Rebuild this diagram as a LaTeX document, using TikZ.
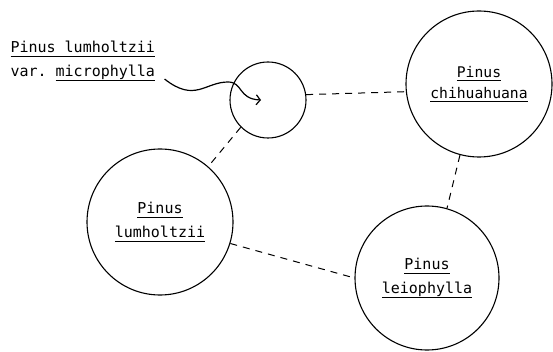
\documentclass[tikz,border=0pt]{standalone}
\usepackage{fontspec}
\setmonofont{DejaVu Sans Mono}
\usetikzlibrary{arrows.meta}
\newcommand{\spname}[1]{\setbox0\hbox{#1}\rlap{\rule[-3.5pt]{\wd0}{0.8pt}}\box0}

\begin{document}
\begin{tikzpicture}[x=1pt,y=-1pt,
    species/.style={draw,circle,line width=1.1pt,align=center,font=\ttfamily\fontsize{15}{24}\selectfont},
    link/.style={draw,line width=1pt,dash pattern=on 7pt off 6pt}]
            \useasboundingbox (0,0) rectangle (553,352);

            \node[species,minimum size=76pt] (Microphylla) at (268,100) {};
            \node[species,minimum size=146pt,font=\ttfamily\fontsize{14.7}{21}\selectfont] (Pinus chihuahuana) at (479,84) {\spname{Pinus}\\ \spname{chihuahuana}};
            \node[species,minimum size=146pt] (Pinus lumholtzii) at (160,222) {\spname{Pinus}\\ \spname{lumholtzii}};
            \node[species,minimum size=144pt] (Pinus leiophylla) at (427,278) {\spname{Pinus}\\ \spname{leiophylla}};

            \node[anchor=base west,align=left,font=\ttfamily\fontsize{15}{24}\selectfont] (Variety Label) at (7,77) {\spname{Pinus lumholtzii}\\
                var. \spname{microphylla}};
            \coordinate (Micro Tip) at ([xshift=-7pt]Microphylla.center);

            \draw[link] (Microphylla.8) to (Pinus chihuahuana.186);
            \draw[link] (Microphylla.225) to (Pinus lumholtzii.49);
            \draw[link] (Pinus chihuahuana.255) to (Pinus leiophylla.74);
            \draw[link] (Pinus lumholtzii.-17) to (Pinus leiophylla.180);
            \draw[-{Straight Barb[length=4pt,width=10pt]},draw,line width=1.2pt] ([xshift=6pt,yshift=5pt]Variety Label.south east) .. controls (195,103) and (205,82) .. (228,82) .. controls (243,82) and (238,99) .. (Micro Tip);
        \end{tikzpicture}
\end{document}
